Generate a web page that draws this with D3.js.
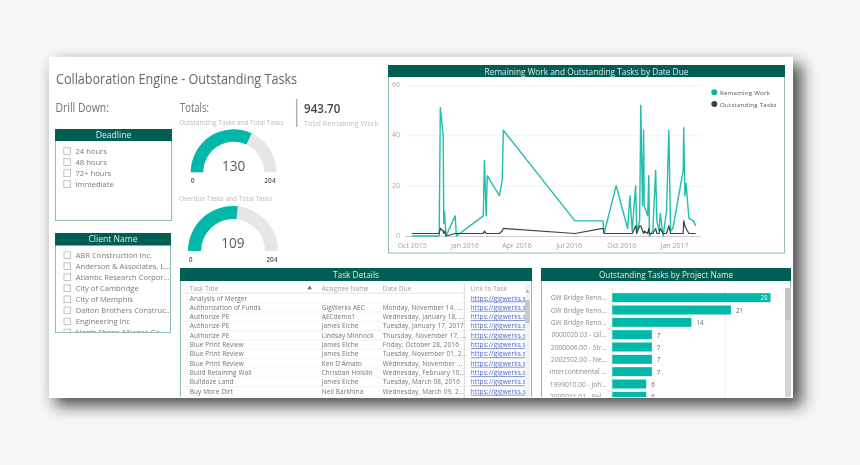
<!DOCTYPE html>
<html><head><meta charset="utf-8">
<script src="https://cdn.jsdelivr.net/npm/d3@7/dist/d3.min.js"></script>
<style>
html,body{margin:0;padding:0;background:#f6f6f6;overflow:hidden}
svg{display:block;filter:blur(0.4px)}
text{font-family:"Open Sans",sans-serif}
</style></head><body>
<svg id="c" width="860" height="465"></svg>
<script>
const deadlineOptions=["24 hours","48 hours","72+ hours","Immediate"];
const clientNames=["ABR Construction Inc.","Anderson & Associates, L...","Atlantic Research Corpor...","City of Cambridge","City of Memphis","Dalton Brothers Construc...","Engineering Inc","North Shore Alliance Gr..."];
const gaugeTotal=204, outstandingTasks=130, overdueTasks=109;
const dueDates=["2015-10-01","2015-11-18","2015-11-20","2015-11-25","2015-11-26","2015-11-27","2015-11-30","2015-12-16","2015-12-18","2016-02-03","2016-02-05","2016-02-08","2016-02-10","2016-03-02","2016-03-07","2016-03-09","2016-07-12","2016-08-30","2016-09-01","2016-09-22","2016-10-12","2016-10-16","2016-10-20","2016-10-26","2016-10-28","2016-11-02","2016-11-04","2016-11-07","2016-11-09","2016-11-10","2016-11-16","2016-11-18","2016-11-19","2016-11-25","2016-11-30","2016-12-02","2016-12-06","2016-12-08","2016-12-13","2016-12-19","2016-12-23","2016-12-26","2016-12-30","2017-01-17","2017-01-18","2017-01-20","2017-01-22","2017-01-27","2017-02-04","2017-02-08"];
const remainingWork=[0,0,51,40,5,10,0,8,0,8,30,8,24,16,22,42,6,6,1,20,3,16,2,20,2,6,52,12,42,12,8,24,0,2,26,6,2,9,0,10,42,2,3,26,43,16,21,7,6,4];
const outstandingSeries=[1,1,3,2,1,2,0,1,1,1,2,1,1,1,2,3,1,3,1,1,1,1,1,4,1,4,4,2,1,2,1,3,1,1,3,1,1,3,1,1,4,1,1,1,6,4,3,1,1,1];
const taskColumns=["Task Title","Assignee Name","Date Due","Link to Task"];
const taskTitles=["Analysis of Merger","Authorization of Funds","Authorize PE","Authorize PE","Authorize PE","Blue Print Review","Blue Print Review","Blue Print Review","Build Retaining Wall","Bulldoze Land","Buy More Dirt"];
const taskAssignees=["","GigWerks AEC","AECdemo1","James Eiche","Lindsay Minnock","James Eiche","James Eiche","Ken D'Amato","Christian Holslin","James Eiche","Neil Barkhina"];
const taskDates=["","Monday, November 14, ...","Wednesday, January 18, ...","Tuesday, January 17, 2017","Thursday, November 17, ...","Friday, October 28, 2016","Tuesday, November 01, 2...","Wednesday, November ...","Wednesday, February 10...","Tuesday, March 08, 2016","Wednesday, March 09, 2..."];
const taskLink="https://gigwerks.s";
const projectNames=["GW Bridge Reno...","GW Bridge Reno...","GW Bridge Reno...","0000020.03 - Gil...","2000006.00 - Str...","2002502.00 - Ne...","Intercontinental ...","1999010.00 - Joh...","2000011.01 - Bel..."];
const projectValues=[28,21,14,7,7,7,7,6,6];

const TEAL="#01b8aa",HEAD="#005e54",BORDER="#93bdb9",GREY="#7a7a7a";
const svg=d3.select("#c");
const defs=svg.append("defs");
defs.append("filter").attr("id","sh").attr("x","-10%").attr("y","-15%").attr("width","120%").attr("height","130%")
  .append("feGaussianBlur").attr("stdDeviation",7.5);
const clip=(id,x,y,w,h)=>defs.append("clipPath").attr("id",id).append("rect").attr("x",x).attr("y",y).attr("width",w).attr("height",h);
svg.append("rect").attr("x",55).attr("y",64).attr("width",747).attr("height",342).attr("fill","#222").attr("opacity",.78).attr("filter","url(#sh)");
svg.append("rect").attr("x",49).attr("y",57).attr("width",744).attr("height",341).attr("fill","#fff");

const T=(x,y,s,size,fill,anchor,extra)=>{const t=svg.append("text").attr("x",x).attr("y",y).attr("font-size",size).attr("fill",fill).attr("text-anchor",anchor||"start").attr("dominant-baseline","central").text(s);if(extra)extra(t);return t;};
const fit=w=>t=>t.attr("textLength",w).attr("lengthAdjust","spacingAndGlyphs");
function panel(x,y,w,h,hh,title,fs){
  svg.append("rect").attr("x",x+.5).attr("y",y+.5).attr("width",w-1).attr("height",h-1).attr("fill","#fff").attr("stroke",BORDER);
  svg.append("rect").attr("x",x).attr("y",y).attr("width",w).attr("height",hh).attr("fill",HEAD);
  T(x+w/2,y+hh/2,title,fs||8.6,"#dfeeea","middle");
}
T(56,78,"Collaboration Engine - Outstanding Tasks",14.2,"#666",null,fit(241));
T(55.5,107,"Drill Down:",12,"#707070",null,fit(53.5));
T(180,107,"Totals:",12,"#707070",null,fit(29));
T(179,122,"Outstanding Tasks and Total Tasks",6.5,"#bcbcbc");
T(179,198,"Overdue Tasks and Total Tasks",6.5,"#bcbcbc");
svg.append("line").attr("x1",296.7).attr("x2",296.7).attr("y1",99).attr("y2",127).attr("stroke","#b0b0b0").attr("stroke-width",1.5);
T(304,108.7,"943.70",11.6,"#444","start",t=>t.attr("font-weight",600));
T(304,122.5,"Total Remaining Work",7.3,"#c2c2c2");

function slicer(items,top,step,cx,tx,clipId){
  const g=svg.append("g"); if(clipId) g.attr("clip-path",`url(#${clipId})`);
  items.forEach((d,i)=>{
    g.append("rect").attr("x",cx).attr("y",top+i*step-3.2).attr("width",6.6).attr("height",6.6).attr("fill","#fff").attr("stroke","#b5b5b5").attr("stroke-width",.8);
    g.append("text").attr("x",tx).attr("y",top+i*step).attr("dominant-baseline","central").attr("font-size",7.6).attr("fill",GREY).text(d);
  });
}
panel(55,129,117,92,12,"Deadline");
slicer(deadlineOptions,151,11,63.8,75.5);
panel(55,233,116,100,12.5,"Client Name");
clip("cl",56,246,114,86);
slicer(clientNames,255,11.05,64,75.7,"cl");

function gauge(cx,cy,r,th,v,lx0,lx1,ly,ty){
  const ang=d3.scaleLinear().domain([0,gaugeTotal]).range([-Math.PI/2,Math.PI/2]);
  const a=d3.arc().innerRadius(r-th).outerRadius(r);
  const g=svg.append("g").attr("transform",`translate(${cx},${cy})`);
  g.append("path").attr("d",a({startAngle:ang(0),endAngle:ang(gaugeTotal)})).attr("fill","#e6e6e6");
  g.append("path").attr("d",a({startAngle:ang(0),endAngle:ang(v)})).attr("fill",TEAL);
  T(ty[0],ty[1],String(v),13.6,"#5a5a5a","middle");
  T(lx0,ly,"0",6.6,"#555","middle",t=>t.attr("font-weight",600));
  T(lx1,ly,String(gaugeTotal),6.6,"#555","middle",t=>t.attr("font-weight",600));
}
gauge(233.7,172.3,43,12.5,outstandingTasks,192.7,270,180.7,[233.7,165]);
gauge(233,251,45,13,overdueTasks,190.7,272,259,[233,242.7]);

// line chart
panel(388,65,397,188.5,12,"Remaining Work and Outstanding Tasks by Date Due",8.3);
const parse=d3.utcParse("%Y-%m-%d");
const xT=d3.scaleUtc().domain([parse("2015-10-01"),parse("2017-01-01")]).range([411.7,674]);
const yL=d3.scaleLinear().domain([0,60]).range([236,85]);
const gy=svg.append("g").attr("transform","translate(405,0)")
  .call(d3.axisLeft(yL).tickValues([0,20,40,60]).tickSize(-296).tickPadding(5));
gy.select(".domain").remove();
gy.selectAll("line").attr("stroke",d=>d===0?"#cfcfcf":"#f1f1f1");
gy.selectAll("text").attr("fill","#a8a8a8").attr("font-size",7).attr("dy","0.22em").style("font-family",'"Open Sans",sans-serif');
const gx=svg.append("g").attr("transform","translate(0,241)")
  .call(d3.axisBottom(xT).ticks(d3.utcMonth.every(3)).tickFormat(d3.utcFormat("%b %Y")).tickSize(0).tickPadding(2));
gx.select(".domain").remove();
gx.selectAll("text").attr("fill","#a0a0a0").attr("font-size",7).style("font-family",'"Open Sans",sans-serif');
const ln=d3.line().x((d,i)=>xT(parse(dueDates[i]))).y(d=>yL(d));
svg.append("path").attr("d",ln(remainingWork)).attr("fill","none").attr("stroke","#22bdb0").attr("stroke-width",1.4).attr("stroke-linejoin","round");
svg.append("path").attr("d",ln(outstandingSeries)).attr("fill","none").attr("stroke","#3a4444").attr("stroke-width",1.2).attr("stroke-linejoin","round");
[["Remaining Work",TEAL,92.3],["Outstanding Tasks","#3a4444",104]].forEach(d=>{
  svg.append("circle").attr("cx",714.3).attr("cy",d[2]).attr("r",3).attr("fill",d[1]);
  T(720,d[2],d[0],6.1,"#555","start",t=>t.attr("letter-spacing",.25));
});

// table
panel(180,268,352,130,13,"Task Details",8.3);
svg.append("rect").attr("x",180).attr("y",397).attr("width",352).attr("height",1).attr("fill","#fff");
const colX=[189.7,321.7,382.7,470.7];
taskColumns.forEach((c,i)=>T(colX[i],288.7,c,6.3,"#9a9a9a","start",t=>t.attr("letter-spacing",.15)));
svg.append("path").attr("d",d3.symbol(d3.symbolTriangle,8)()).attr("transform","translate(309.7,288)").attr("fill","#666");
clip("tb",181,292,350,105);
const tb=svg.append("g").attr("clip-path","url(#tb)");
const rowY=i=>298+i*9.33;
svg.append("rect").attr("x",184).attr("y",292.5).attr("width",280).attr("height",1.2).attr("fill","#e9e9e9");
taskTitles.forEach((d,i)=>{
  tb.append("line").attr("x1",184).attr("x2",524).attr("y1",rowY(i)+4.7).attr("y2",rowY(i)+4.7).attr("stroke","#efefef").attr("stroke-width",.7);
  [d,taskAssignees[i],taskDates[i]].forEach((s,k)=>tb.append("text").attr("x",colX[k]).attr("y",rowY(i)).attr("dominant-baseline","central").attr("font-size",6.4).attr("letter-spacing",.15).attr("fill","#707070").text(s));
  tb.append("text").attr("x",colX[3]).attr("y",rowY(i)).attr("dominant-baseline","central").attr("font-size",6.4).attr("letter-spacing",.15).attr("fill","#4a63c8").attr("text-decoration","underline").text(taskLink);
});
svg.append("line").attr("x1",464.3).attr("x2",464.3).attr("y1",284).attr("y2",398).attr("stroke","#d0d0d0").attr("stroke-width",.8);
svg.append("rect").attr("x",525).attr("y",284).attr("width",5).attr("height",113).attr("fill","#f2f2f2");
svg.append("rect").attr("x",525).attr("y",300).attr("width",5).attr("height",23).attr("fill","#c8c8c8");
svg.append("path").attr("d",d3.symbol(d3.symbolTriangle,4)()).attr("transform","translate(527.5,291.5)").attr("fill","#999");

// bars
panel(541,268,250,130,13,"Outstanding Tasks by Project Name",8.1);
svg.append("rect").attr("x",541).attr("y",397).attr("width",250).attr("height",1).attr("fill","#fff");
const xB=d3.scaleLinear().domain([0,20]).range([612.3,725.3]);
const yB=d3.scaleBand().domain(d3.range(projectNames.length)).range([291.5,402.5]).paddingInner(.27).paddingOuter(.135);
clip("bc",542,282,243,115);
const bg=svg.append("g").attr("clip-path","url(#bc)");
[0,20].forEach(v=>bg.append("line").attr("x1",xB(v)).attr("x2",xB(v)).attr("y1",288).attr("y2",398).attr("stroke",v?"#eeeeee":"#d8d8d8").attr("stroke-width",.8));
projectValues.forEach((v,i)=>{
  const y=yB(i)+yB.bandwidth()/2;
  bg.append("rect").attr("x",xB(0)).attr("y",yB(i)).attr("width",xB(v)-xB(0)).attr("height",yB.bandwidth()).attr("fill",TEAL);
  bg.append("text").attr("x",606.7).attr("y",y).attr("text-anchor","end").attr("dominant-baseline","central").attr("font-size",6.7).attr("fill","#8c8c8c").text(projectNames[i]);
  const inside=v===28;
  bg.append("text").attr("x",inside?xB(v)-3:xB(v)+5).attr("y",y+(inside?0:.5)).attr("text-anchor",inside?"end":"start").attr("dominant-baseline","central").attr("font-size",6.2).attr("fill",inside?"#e8f8f6":"#666").text(v);
});
svg.append("rect").attr("x",785).attr("y",288).attr("width",6).attr("height",109).attr("fill","#d4d4d4");
svg.append("rect").attr("x",785).attr("y",288).attr("width",6).attr("height",32).attr("fill","#c4c4c4");
</script></body></html>
